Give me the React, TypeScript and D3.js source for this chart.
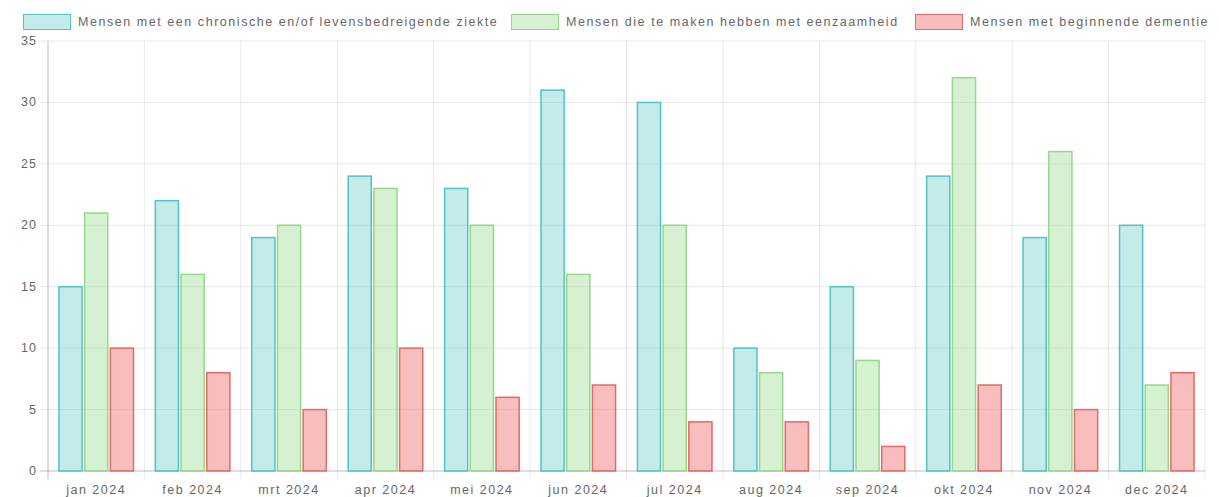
import * as d3 from 'd3';
import React from 'react';

const months = ['jan 2024', 'feb 2024', 'mrt 2024', 'apr 2024', 'mei 2024', 'jun 2024', 'jul 2024', 'aug 2024', 'sep 2024', 'okt 2024', 'nov 2024', 'dec 2024'];
const chronisch = [15, 22, 19, 24, 23, 31, 30, 10, 15, 24, 19, 20];
const eenzaamheid = [21, 16, 20, 23, 20, 16, 20, 8, 9, 32, 26, 7];
const dementie = [10, 8, 5, 10, 6, 7, 4, 4, 2, 7, 5, 8];
const seriesNames = [
  'Mensen met een chronische en/of levensbedreigende ziekte',
  'Mensen die te maken hebben met eenzaamheid',
  'Mensen met beginnende dementie',
];
const yTicks = [0, 5, 10, 15, 20, 25, 30, 35];

const colors = [
  { fill: 'rgba(75,192,192,0.33)', stroke: 'rgb(80,195,195)' },
  { fill: 'rgba(150,220,140,0.4)', stroke: 'rgb(150,215,140)' },
  { fill: 'rgba(240,110,110,0.45)', stroke: 'rgb(228,105,105)' },
];

const W = 1219;
const H = 497;
const margin = { top: 41, right: 14, bottom: 26, left: 48 };
const font = '"Liberation Sans", Arial, sans-serif';

export default function App() {
  const series = [chronisch, eenzaamheid, dementie];
  const x = d3.scaleBand().domain(months).range([margin.left, W - margin.right]);
  const inner = d3
    .scaleBand<number>()
    .domain([0, 1, 2])
    .range([x.bandwidth() * 0.1, x.bandwidth() * 0.9]);
  const y = d3.scaleLinear().domain([0, 35]).range([H - margin.bottom, margin.top]);
  const barW = inner.bandwidth() * 0.9;
  const grid = 'rgba(0,0,0,0.09)';

  const legendX = [23, 511, 915];

  return (
    <svg width={W} height={H} style={{ position: 'absolute', left: 0, top: 0, background: '#fff' }} fontFamily={font}>
      {/* legend */}
      {seriesNames.map((name, i) => (
        <g key={name} transform={`translate(${legendX[i]},14)`}>
          <rect x={0.5} y={0.5} width={47} height={15} fill={colors[i].fill} stroke={colors[i].stroke} strokeWidth={1} />
          <text x={55} y={12} fontSize={12.5} letterSpacing={1.55} fill="#666">{name}</text>
        </g>
      ))}

      {/* horizontal grid + y ticks */}
      {yTicks.map(t => (
        <g key={t}>
          <line x1={margin.left - 8} x2={W - margin.right} y1={y(t)} y2={y(t)} stroke={t === 0 ? 'rgba(0,0,0,0.25)' : grid} />
          <text x={margin.left - 11} y={y(t) + 4} textAnchor="end" fontSize={12.5} letterSpacing={1} fill="#666">{t}</text>
        </g>
      ))}

      {/* vertical grid */}
      {[...months.map(m => x(m) as number), W - margin.right].map((gx, i) => (
        <line key={i} x1={gx} x2={gx} y1={margin.top} y2={H - margin.bottom + 8} stroke={i === 0 ? 'rgba(0,0,0,0.25)' : grid} />
      ))}

      {/* bars */}
      {months.map((m, mi) => (
        <g key={m} transform={`translate(${x(m)},0)`}>
          {series.map((s, si) => {
            const bx = (inner(si) as number) + (inner.bandwidth() - barW) / 2;
            return (
              <rect
                key={si}
                x={bx}
                y={y(s[mi])}
                width={barW}
                height={y(0) - y(s[mi])}
                fill={colors[si].fill}
                stroke={colors[si].stroke}
                strokeWidth={1.5}
              />
            );
          })}
          <text x={x.bandwidth() / 2} y={H - 3} textAnchor="middle" fontSize={12.5} letterSpacing={1.5} fill="#666">{m}</text>
        </g>
      ))}
    </svg>
  );
}
